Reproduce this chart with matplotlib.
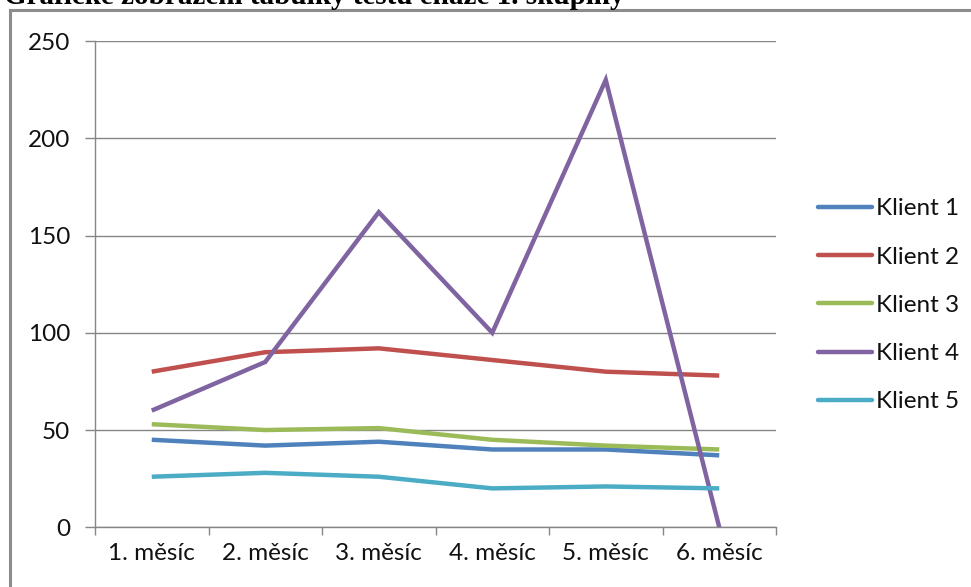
import matplotlib
matplotlib.use("Agg")
import matplotlib.pyplot as plt
from matplotlib.lines import Line2D

# Data
months = ["1. měsíc", "2. měsíc", "3. měsíc", "4. měsíc", "5. měsíc", "6. měsíc"]
klient1 = [45, 42, 44, 40, 40, 37]
klient2 = [80, 90, 92, 86, 80, 78]
klient3 = [53, 50, 51, 45, 42, 40]
klient4 = [60, 85, 162, 100, 230, 0]
klient5 = [26, 28, 26, 20, 21, 20]
series_names = ["Klient 1", "Klient 2", "Klient 3", "Klient 4", "Klient 5"]
y_ticks = [0, 50, 100, 150, 200, 250]

colors = ["#4F81BD", "#C0504D", "#9BBB59", "#8064A2", "#4BACC6"]
W, H = 971, 587
font = "Lato"
fsize = 17.5

fig = plt.figure(figsize=(W / 100, H / 100), dpi=100)
fig.patch.set_facecolor("white")

# Chart frame (only top and left edges fall inside the image)
fig.add_artist(Line2D([10 / W, 10 / W], [0, 1 - 10 / H], transform=fig.transFigure,
                      color="#8c8c8c", lw=2.2))
fig.add_artist(Line2D([10 / W, 1], [1 - 10 / H, 1 - 10 / H], transform=fig.transFigure,
                      color="#8c8c8c", lw=2.2))

# Heading, partly cut off at the top edge
fig.text(4 / W, 1 - 3.5 / H, "Grafické zobrazení tabulky testu ehaže 1. skupiny",
         family="Liberation Serif", weight="bold", fontsize=21,
         ha="left", va="baseline", color="black")

left, right, top, bottom = 95, 776, 41, 527.3
ax = fig.add_axes([left / W, (H - bottom) / H, (right - left) / W, (bottom - top) / H])

x = [i + 0.5 for i in range(len(months))]
all_series = [klient1, klient2, klient3, klient4, klient5]
for vals, name, c in zip(all_series, series_names, colors):
    ax.plot(x, vals, color=c, lw=3.2, label=name, solid_capstyle="butt",
            solid_joinstyle="miter", zorder=3)

ax.set_xlim(0, len(months))
ax.set_ylim(0, 250)
ax.set_yticks(y_ticks)
ax.set_yticklabels([str(v) for v in y_ticks])
ax.set_xticks(x)
ax.set_xticklabels(months)
ax.set_xticks(range(len(months) + 1), minor=True)

ax.yaxis.grid(True, color="#868686", lw=1.0, zorder=0)
ax.set_axisbelow(True)

for s in ["top", "right"]:
    ax.spines[s].set_visible(False)
for s in ["left", "bottom"]:
    ax.spines[s].set_color("#868686")
    ax.spines[s].set_linewidth(1.0)

ax.tick_params(axis="y", direction="out", length=7, width=1.0, color="#868686",
               pad=11, labelsize=fsize, labelcolor="#111111")
ax.tick_params(axis="x", which="major", length=0, pad=11, labelsize=fsize,
               labelcolor="#111111")
ax.tick_params(axis="x", which="minor", direction="out", length=6, width=1.0,
               color="#868686")
for lab in ax.get_xticklabels() + ax.get_yticklabels():
    lab.set_family(font)

# Legend
leg_y = [207, 255, 303, 352, 400]
for name, c, yy in zip(series_names, colors, leg_y):
    yf = 1 - yy / H
    fig.add_artist(Line2D([818 / W, 872 / W], [yf, yf], transform=fig.transFigure,
                          color=c, lw=3.2, solid_capstyle="round"))
    fig.text(876 / W, yf, name, family=font, fontsize=fsize, ha="left",
             va="center_baseline", color="#111111")

fig.savefig("out.png", dpi=100, facecolor="white")
